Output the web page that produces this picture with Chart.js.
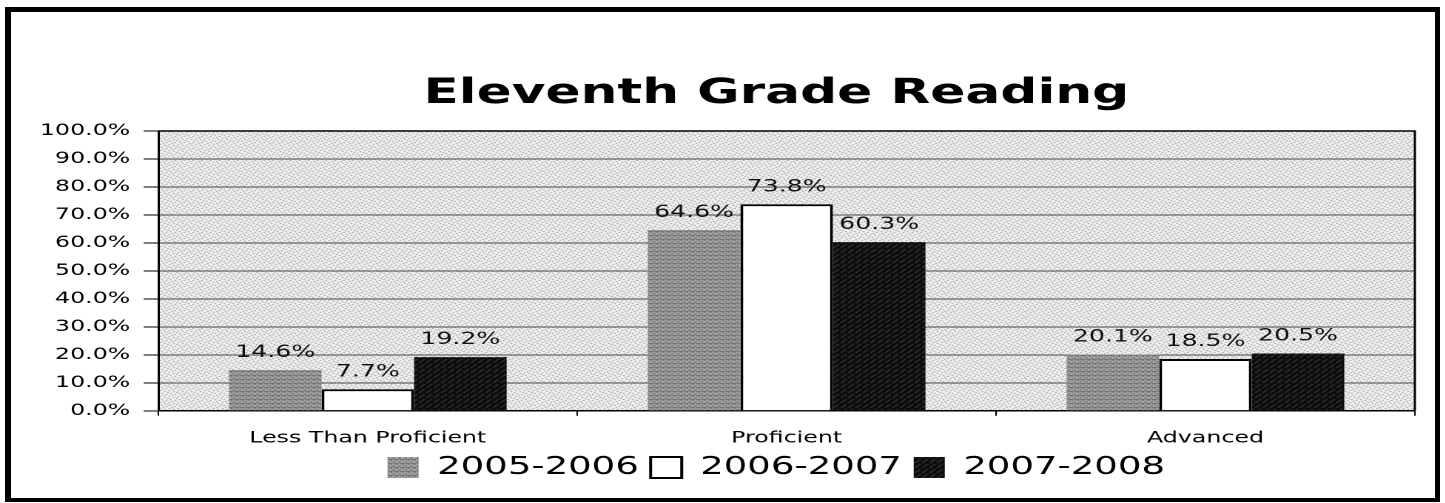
<!DOCTYPE html>
<html><head><meta charset="utf-8">
<script src="https://cdn.jsdelivr.net/npm/chart.js@4.4.1/dist/chart.umd.min.js"></script>
<style>
html,body{margin:0;padding:0;background:#fff;overflow:hidden;width:1445px;height:503px}
#wrap{position:absolute;left:0;top:0;width:1031px;height:503px;transform:scaleX(1.48);transform-origin:0 0}
#frame{position:absolute;left:5px;top:7px;width:1435px;height:495px;box-sizing:border-box;border-style:solid;border-color:#000;border-width:5px 5px 4px 6px;pointer-events:none}
</style></head><body>
<div id="wrap"><canvas id="c"></canvas></div>
<div id="frame"></div>
<script>
const categories = ['Less Than Proficient', 'Proficient', 'Advanced'];
const seriesNames = ['2005-2006', '2006-2007', '2007-2008'];
const values2005 = [14.6, 64.6, 20.1];
const values2006 = [7.7, 73.8, 18.5];
const values2007 = [19.2, 60.3, 20.5];
const yTickLabels = ['0.0%', '10.0%', '20.0%', '30.0%', '40.0%', '50.0%', '60.0%', '70.0%', '80.0%', '90.0%', '100.0%'];

const canvas = document.getElementById('c');
const ctx0 = canvas.getContext('2d');
function makePattern(base, dot, coords, size) {
  const t = document.createElement('canvas');
  t.width = size; t.height = size;
  const x = t.getContext('2d');
  x.fillStyle = base; x.fillRect(0, 0, size, size);
  x.fillStyle = dot;
  coords.forEach(([a, b]) => x.fillRect(a, b, 1, 1));
  return ctx0.createPattern(t, 'repeat');
}
const bgPattern = makePattern('#f2f2f2', '#8a8a8a', [[0,0],[3,1],[1,3],[4,4],[2,5],[5,2]], 6);
const grayPattern = makePattern('#acacac', '#5e5e5e', [[0,0],[2,1],[1,2],[3,3],[0,3],[2,3]], 4);
const blackPattern = makePattern('#0c0c0c', '#4a4a4a', [[0,0],[3,2],[1,4],[4,1]], 5);

const bgPlugin = {
  id: 'bg',
  beforeDraw(chart) {
    const {ctx, chartArea: a} = chart;
    ctx.save();
    ctx.fillStyle = bgPattern;
    ctx.fillRect(a.left, a.top, a.right - a.left, a.bottom - a.top);
    ctx.restore();
  },
  afterDraw(chart) {
    const {ctx, chartArea: a} = chart;
    ctx.save();
    ctx.strokeStyle = '#000';
    ctx.lineWidth = 1.5;
    ctx.beginPath();
    ctx.moveTo(a.left, a.top); ctx.lineTo(a.right, a.top); ctx.lineTo(a.right, a.bottom);
    ctx.stroke();
    ctx.restore();
  }
};
const labelPlugin = {
  id: 'vals',
  afterDatasetsDraw(chart) {
    const ctx = chart.ctx;
    ctx.save();
    ctx.font = '17px "DejaVu Sans"';
    ctx.fillStyle = '#111';
    ctx.textAlign = 'center';
    ctx.textBaseline = 'alphabetic';
    chart.data.datasets.forEach((ds, i) => {
      chart.getDatasetMeta(i).data.forEach((el, j) => {
        ctx.fillText(ds.data[j].toFixed(1) + '%', el.x, el.y - 13);
      });
    });
    ctx.restore();
  }
};

new Chart(canvas, {
  type: 'bar',
  data: {
    labels: categories,
    datasets: [
      {label: seriesNames[0], data: values2005, backgroundColor: grayPattern, borderColor: '#888', borderWidth: 0, categoryPercentage: 0.663, barPercentage: 1},
      {label: seriesNames[1], data: values2006, backgroundColor: '#fff', borderColor: '#000', borderWidth: 2, categoryPercentage: 0.663, barPercentage: 1},
      {label: seriesNames[2], data: values2007, backgroundColor: blackPattern, borderColor: '#000', borderWidth: 0, categoryPercentage: 0.663, barPercentage: 1}
    ]
  },
  options: {
    responsive: true, maintainAspectRatio: false, animation: false, devicePixelRatio: 2,
    layout: {padding: {left: 18, right: 0, top: 0, bottom: 13}},
    plugins: {
      title: {display: true, text: 'Eleventh Grade Reading', color: '#000',
        font: {family: 'DejaVu Sans', size: 35, weight: 'bold'}, padding: {top: 73, bottom: 16}},
      legend: {position: 'bottom', labels: {color: '#000', font: {family: 'DejaVu Sans', size: 25},
        boxWidth: 21, boxHeight: 21, padding: 8}},
      tooltip: {enabled: false}
    },
    scales: {
      x: {
        grid: {display: true, drawOnChartArea: false, drawTicks: true, tickLength: 5, color: '#000', offset: true},
        border: {display: true, color: '#000', width: 1.5},
        ticks: {color: '#000', font: {family: 'DejaVu Sans', size: 16}, padding: 13, maxRotation: 0},
        afterFit: (scale) => { scale.height -= 14; }
      },
      y: {
        min: 0, max: 100,
        ticks: {stepSize: 10, color: '#000', font: {family: 'DejaVu Sans', size: 16}, padding: 9,
          callback: (v) => yTickLabels[Math.round(v / 10)]},
        grid: {color: '#4a4a4a', tickColor: '#000', tickLength: 10, lineWidth: 1},
        border: {color: '#000', width: 1.5}
      },
      yPad: {
        position: 'right', display: true,
        ticks: {display: false}, grid: {display: false}, border: {display: false},
        afterFit: (scale) => { scale.width = 75; }
      }
    }
  },
  plugins: [bgPlugin, labelPlugin]
});
</script>
</body></html>
